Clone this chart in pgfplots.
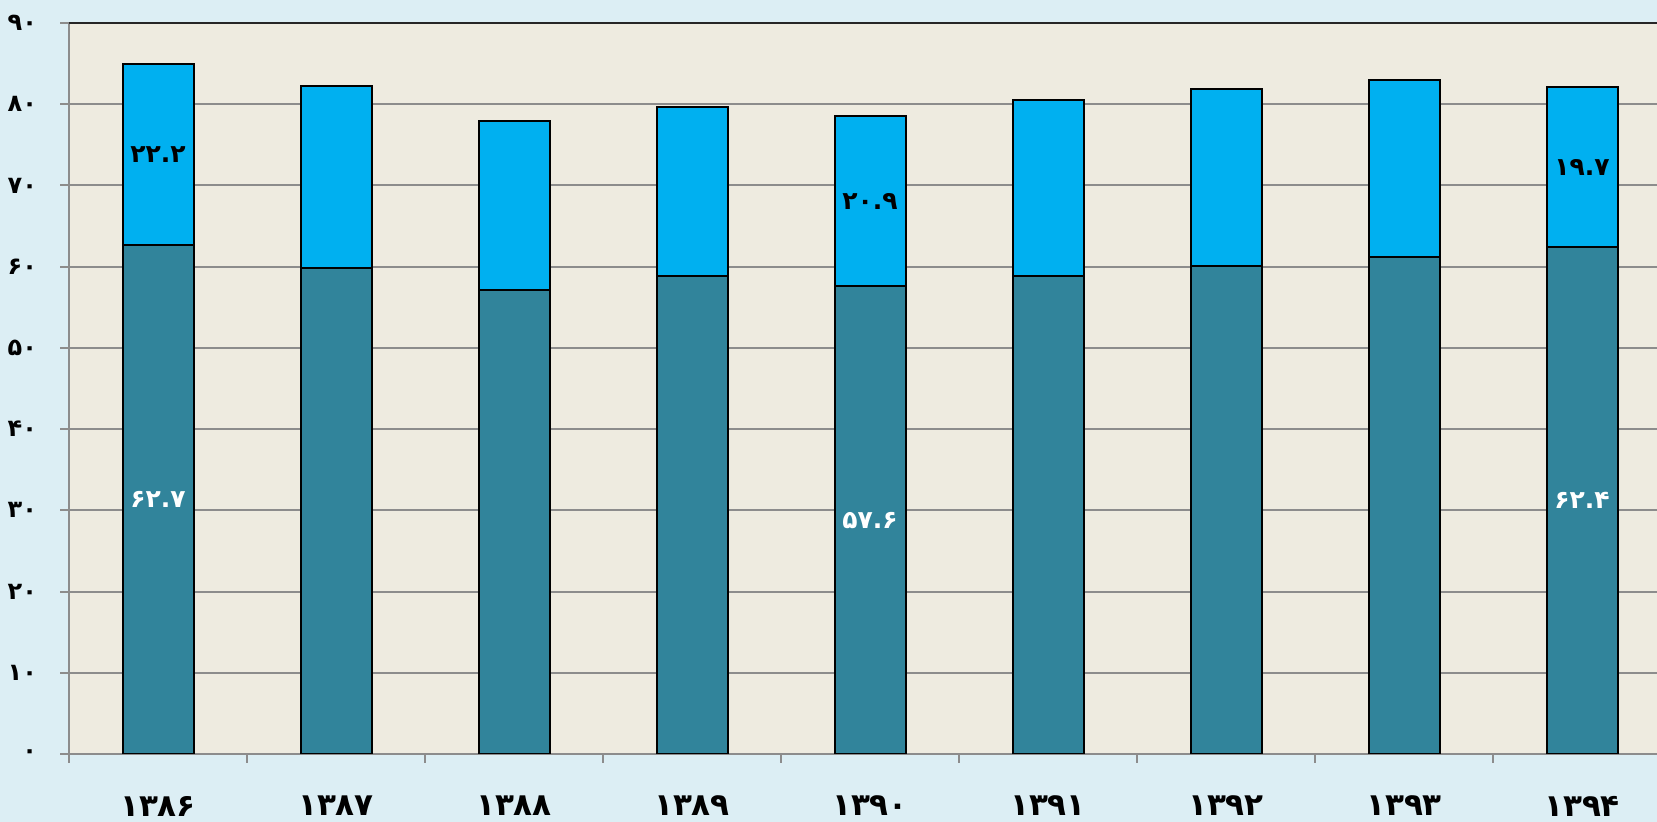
\documentclass[border=0pt]{standalone}
\usepackage{pgfplots}
\pgfplotsset{compat=1.18}
\usepackage{fontspec}
\newfontfamily\fa[Script=Arabic]{DejaVu Sans}
\definecolor{bgblue}{HTML}{DCEEF4}
\definecolor{plotbg}{HTML}{EEEBE0}
\definecolor{lowteal}{HTML}{31849B}
\definecolor{upcyan}{HTML}{00B0F0}
\definecolor{gridgray}{RGB}{140,140,140}
\begin{document}
\begin{tikzpicture}
\useasboundingbox[fill=bgblue] (0,0) rectangle (828.5pt,411pt);
\begin{axis}[
  at={(34.5pt,34pt)}, anchor=south west,
  scale only axis, width=801pt, height=365.5pt,
  xmin=-0.5, xmax=8.5, ymin=0, ymax=90,
  ybar stacked, bar width=35.5pt,
  ytick={0,10,...,90},
  yticklabels={۰,۱۰,۲۰,۳۰,۴۰,۵۰,۶۰,۷۰,۸۰,۹۰},
  xtick={0,...,8},
  xticklabels={۱۳۸۶,۱۳۸۷,۱۳۸۸,۱۳۸۹,۱۳۹۰,۱۳۹۱,۱۳۹۲,۱۳۹۳,۱۳۹۴},
  minor xtick={-0.5,0.5,...,8.5},
  major x tick style={draw=none},
  tick align=outside, xtick pos=bottom, ytick pos=left,
  major tick length=4.5pt, minor tick length=4.5pt,
  tick style={gridgray, line width=1pt},
  ymajorgrids, major grid style={gridgray, line width=1pt},
  axis line style={gridgray, line width=1pt},
  axis background/.style={fill=plotbg},
  yticklabel style={font=\fa\bfseries\fontsize{12}{14}\selectfont, xshift=-8pt},
  xticklabel style={font=\fa\bfseries\fontsize{15.5}{19}\selectfont, yshift=-13pt},
]
\addplot[fill=lowteal, draw=black, line width=1pt] coordinates {
 (0,62.7) (1,59.8) (2,57.1) (3,58.8) (4,57.6) (5,58.8) (6,60.1) (7,61.2) (8,62.4)};
\addplot[fill=upcyan, draw=black, line width=1pt] coordinates {
 (0,22.2) (1,22.5) (2,20.8) (3,20.8) (4,20.9) (5,21.7) (6,21.8) (7,21.8) (8,19.7)};
\coordinate (tl) at (rel axis cs:0,1);
\coordinate (tr) at (rel axis cs:1,1);
\coordinate (l1) at (axis cs:0,31.35);
\coordinate (l5) at (axis cs:4,28.8);
\coordinate (l9) at (axis cs:8,31.2);
\coordinate (u1) at (axis cs:0,73.8);
\coordinate (u5) at (axis cs:4,68.05);
\coordinate (u9) at (axis cs:8,72.25);
\end{axis}
\draw[black!85, line width=1pt] (tl) -- (tr);
\begin{scope}[every node/.style={font=\fa\bfseries\fontsize{12.5}{14}\selectfont}]
\node[text=white] at (l1) {۶۲.۷};
\node[text=white] at (l5) {۵۷.۶};
\node[text=white] at (l9) {۶۲.۴};
\node[text=black] at (u1) {۲۲.۲};
\node[text=black] at (u5) {۲۰.۹};
\node[text=black] at (u9) {۱۹.۷};
\end{scope}
\end{tikzpicture}
\end{document}
